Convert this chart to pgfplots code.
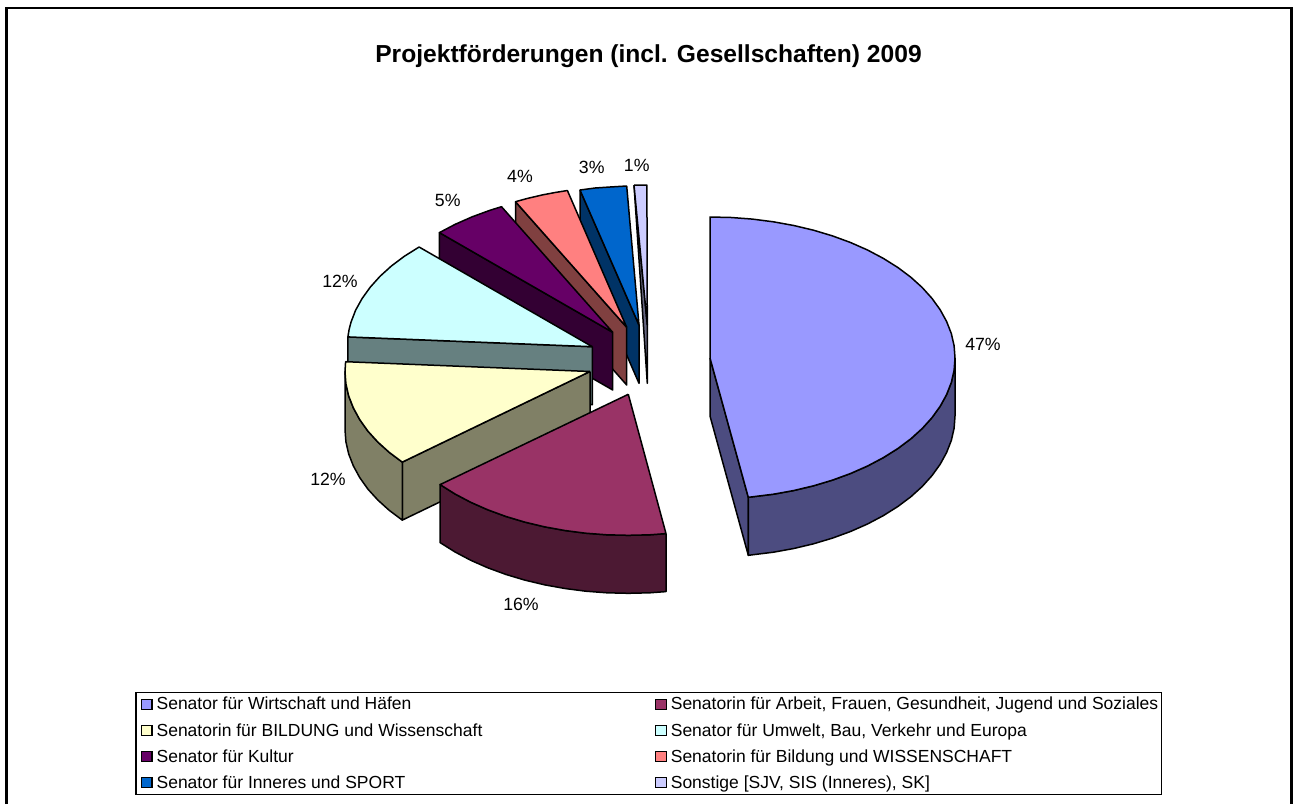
\documentclass[border=0pt]{standalone}
\usepackage{fontspec}
\setmainfont{Liberation Sans}
\usepackage{pgfplots}
\pgfplotsset{compat=1.18}
\definecolor{cA}{HTML}{9999FF}\definecolor{sA}{HTML}{4C4C80}
\definecolor{cB}{HTML}{993366}\definecolor{sB}{HTML}{4C1933}
\definecolor{cC}{HTML}{FFFFCC}\definecolor{sC}{HTML}{808066}
\definecolor{cD}{HTML}{CCFFFF}\definecolor{sD}{HTML}{668080}
\definecolor{cE}{HTML}{660066}\definecolor{sE}{HTML}{330033}
\definecolor{cF}{HTML}{FF8080}\definecolor{sF}{HTML}{804040}
\definecolor{cG}{HTML}{0066CC}\definecolor{sG}{HTML}{003366}
\definecolor{cH}{HTML}{CCCCFF}\definecolor{sH}{HTML}{666680}
\pgfplotsset{
  wedge/.style={fill=#1,draw=black,line width=1.5pt,line join=round,forget plot,mark=none},
  sq/.style={legend image code/.code={\path (0pt,0pt); \draw[fill=#1,draw=black,line width=1.2pt] (3pt,-5.2pt) rectangle (13.5pt,5.2pt);}}
}
\begin{document}
\begin{tikzpicture}
\useasboundingbox (0,0) rectangle (1296pt,804pt);
\begin{axis}[
  width=1296pt,height=804pt,scale only axis,hide axis,
  xmin=0,xmax=1296,ymin=0,ymax=804,y dir=reverse,clip=false,
  legend columns=2,
  legend cell align=left,
  legend style={at={(axis cs:135.3,691.7)},anchor=north west,draw=black,line width=1.2pt,
    font=\fontsize{17.5}{20}\selectfont,
    inner xsep=2pt,inner ysep=4pt,row sep=9.9pt,
    /tikz/column 1/.style={column sep=3pt},
    /tikz/column 2/.style={column sep=168.7pt},
    /tikz/column 3/.style={column sep=3pt},
    nodes={inner sep=1pt}},
]
% chart frame
\addplot[draw=black,line width=2.6pt,forget plot,mark=none] coordinates {(6.5,804)(6.5,8)(1291.7,8)(1291.7,804)};
% 1%
\addplot[wedge=sH] coordinates {(634,185)(647.3,325)(647.3,383.3)(634,185)};
\addplot[wedge=cH] coordinates {(634,185)(646.9,185)(647.3,325)(634,185)};
% 3%
\addplot[wedge=sG] coordinates {(580,190)(639,325)(639,383.3)(580,248)(580,190)};
\addplot[wedge=cG] coordinates {(639,325)(580,190)(595,188)(610,187)(626.7,186)(639,325)};
% 4%
\addplot[wedge=sF] coordinates {(515.5,201.7)(626.7,327.3)(626.7,385)(515.5,259.4)(515.5,201.7)};
\addplot[wedge=cF] coordinates {(626.7,327.3)(515.5,201.7)(527.1,198.5)(542.9,194.8)(555.1,192.5)(567.4,190.5)(626.7,327.3)};
% 5%
\addplot[wedge=sE] coordinates {(439.4,232.6)(612.7,332.3)(612.7,390)(439.4,290.3)(439.4,232.6)};
\addplot[wedge=cE] coordinates {(612.7,332.3)(439.4,232.6)(455.2,224.3)(472.2,216.8)(490.2,210.2)(501.5,206.7)(612.7,332.3)};
% 12% (Umwelt)
\addplot[wedge=sD] coordinates {(347.9,336.9)(592.3,346.7)(592.3,404.7)(347.9,394.9)(347.9,336.9)};
\addplot[wedge=cD] coordinates {(592.3,346.7)(347.9,336.9)(349.1,329.5)(351,322.2)(355.6,310.2)(362.1,298.5)(370.3,287.1)(380.1,276.2)(391.6,265.8)(404.6,256.1)(419.1,247)(592.3,346.7)};
% 12% (BILDUNG)
\addplot[wedge=sC] coordinates {(590,371.5)(402.3,462.1)(402.3,520.1)(590,429.5)(590,371.5)};
\addplot[wedge=sC] coordinates {(402.3,462.1)(389.3,452.4)(377.8,442)(367.9,431.1)(359.8,419.7)(353.4,408)(348.7,396)(345.9,383.8)(345,371.5)(345,429.5)(345.9,441.8)(348.7,454)(353.4,466)(359.8,477.7)(367.9,489.1)(377.8,500)(389.3,510.4)(402.3,520.1)(402.3,462.1)};
\addplot[wedge=cC] coordinates {(590,371.5)(402.3,462.1)(389.3,452.4)(377.8,442)(367.9,431.1)(359.8,419.7)(353.4,408)(348.7,396)(345.9,383.8)(345,371.5)(345.6,361.7)(590,371.5)};
% 16%
\addplot[wedge=sB] coordinates {(666,533.6)(649.7,534.8)(628.3,535.3)(606.9,534.8)(585.8,533.2)(564.9,530.5)(544.5,526.8)(524.8,522.1)(505.8,516.4)(487.8,509.8)(470.8,502.3)(455.1,494)(440.1,484.6)(440.1,542.6)(455.1,552)(470.8,560.3)(487.8,567.8)(505.8,574.4)(524.8,580.1)(544.5,584.8)(564.9,588.5)(585.8,591.2)(606.9,592.8)(628.3,593.3)(649.7,592.8)(666,591.6)(666,533.6)};
\addplot[wedge=cB] coordinates {(628.3,394.3)(666,533.6)(649.7,534.8)(628.3,535.3)(606.9,534.8)(585.8,533.2)(564.9,530.5)(544.5,526.8)(524.8,522.1)(505.8,516.4)(487.8,509.8)(470.8,502.3)(455.1,494)(440.1,484.6)(628.3,394.3)};
% 47%
\addplot[wedge=sA] coordinates {(710,358)(748.3,497.3)(748.3,555.3)(710,416)(710,358)};
\addplot[wedge=sA] coordinates {(955,358)(954.1,370.3)(951.3,382.5)(946.6,394.5)(940.2,406.2)(932,417.6)(922.2,428.5)(910.7,438.9)(897.7,448.6)(883.2,457.7)(867.5,466)(850.5,473.5)(832.5,480.1)(813.5,485.8)(793.8,490.5)(773.4,494.2)(748.3,497.3)(748.3,555.3)(773.4,552.2)(793.8,548.5)(813.5,543.8)(832.5,538.1)(850.5,531.5)(867.5,524)(883.2,515.7)(897.7,506.6)(910.7,496.9)(922.2,486.5)(932,475.6)(940.2,464.2)(946.6,452.5)(951.3,440.5)(954.1,428.3)(955,416)(955,358)};
\addplot[wedge=cA] coordinates {(710,358)(710,217)(731.4,217.5)(752.5,219.1)(773.4,221.8)(793.8,225.5)(813.5,230.2)(832.5,235.9)(850.5,242.5)(867.5,250)(883.2,258.3)(897.7,267.4)(910.7,277.1)(922.2,287.5)(932,298.4)(940.2,309.8)(946.6,321.5)(951.3,333.5)(954.1,345.7)(955,358)(954.1,370.3)(951.3,382.5)(946.6,394.5)(940.2,406.2)(932,417.6)(922.2,428.5)(910.7,438.9)(897.7,448.6)(883.2,457.7)(867.5,466)(850.5,473.5)(832.5,480.1)(813.5,485.8)(793.8,490.5)(773.4,494.2)(748.3,497.3)(710,358)};
% labels
\node[font=\fontsize{24.6}{28}\bfseries] at (axis cs:648.5,56.5) {Projektförderungen (incl. Gesellschaften) 2009};
\begin{scope}[every node/.style={font=\fontsize{17.7}{20}\selectfont}]
\node at (axis cs:983,344) {47\%};
\node at (axis cs:521,604) {16\%};
\node at (axis cs:328,479) {12\%};
\node at (axis cs:340,281) {12\%};
\node at (axis cs:447.7,200) {5\%};
\node at (axis cs:520,176.7) {4\%};
\node at (axis cs:591.7,167.7) {3\%};
\node at (axis cs:636.7,165) {1\%};
\end{scope}
% legend
\addlegendimage{sq=cA}\addlegendentry{Senator für Wirtschaft und Häfen}
\addlegendimage{sq=cB}\addlegendentry{Senatorin für Arbeit, Frauen, Gesundheit, Jugend und Soziales}
\addlegendimage{sq=cC}\addlegendentry{Senatorin für BILDUNG und Wissenschaft}
\addlegendimage{sq=cD}\addlegendentry{Senator für Umwelt, Bau, Verkehr und Europa}
\addlegendimage{sq=cE}\addlegendentry{Senator für Kultur}
\addlegendimage{sq=cF}\addlegendentry{Senatorin für Bildung und WISSENSCHAFT}
\addlegendimage{sq=cG}\addlegendentry{Senator für Inneres und SPORT}
\addlegendimage{sq=cH}\addlegendentry{Sonstige [SJV, SIS (Inneres), SK]}
\end{axis}
\end{tikzpicture}
\end{document}
